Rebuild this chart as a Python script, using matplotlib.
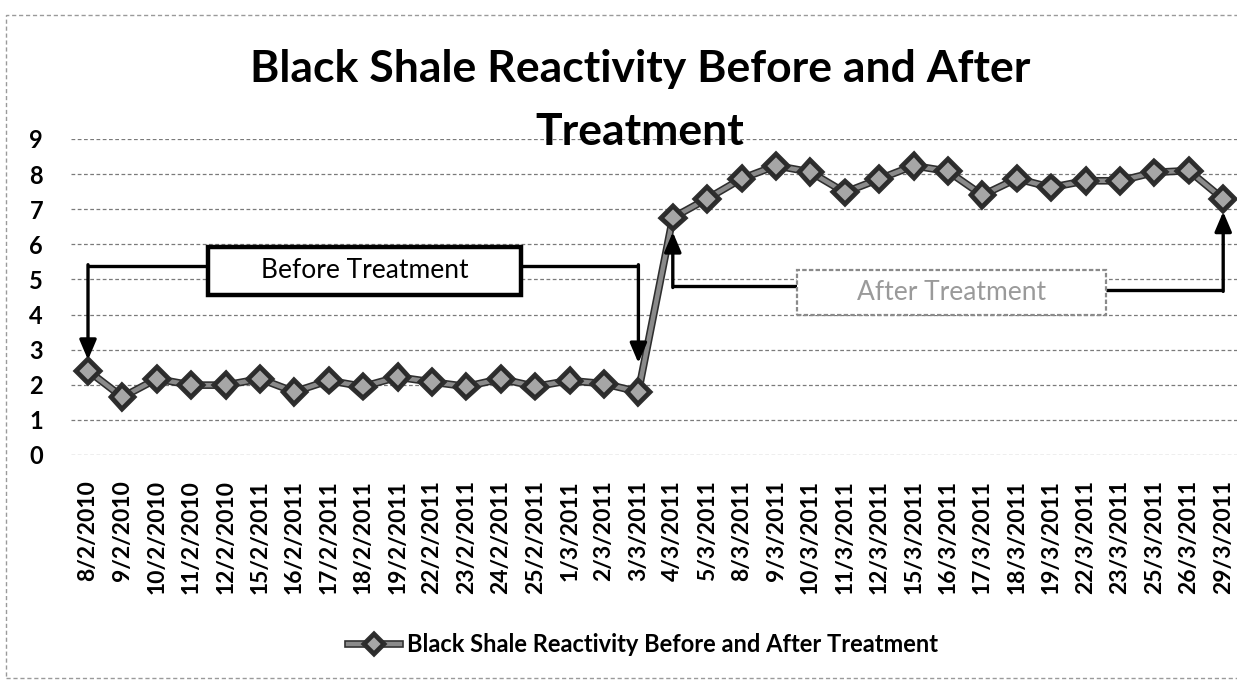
import matplotlib
matplotlib.use('Agg')
import matplotlib.pyplot as plt
import matplotlib.patheffects as pe
from matplotlib.patches import Rectangle

dates = ['8/2/2010', '9/2/2010', '10/2/2010', '11/2/2010', '12/2/2010',
         '15/2/2011', '16/2/2011', '17/2/2011', '18/2/2011', '19/2/2011',
         '22/2/2011', '23/2/2011', '24/2/2011', '25/2/2011', '1/3/2011',
         '2/3/2011', '3/3/2011',
         '4/3/2011', '5/3/2011', '8/3/2011', '9/3/2011', '10/3/2011',
         '11/3/2011', '12/3/2011', '15/3/2011', '16/3/2011', '17/3/2011',
         '18/3/2011', '19/3/2011', '22/3/2011', '23/3/2011', '25/3/2011',
         '26/3/2011', '29/3/2011']
reactivity = [2.40, 1.65, 2.17, 1.99, 1.99, 2.17, 1.80, 2.12, 1.95, 2.22,
              2.08, 1.95, 2.17, 1.95, 2.12, 2.03, 1.80,
              6.76, 7.30, 7.87, 8.24, 8.06, 7.48, 7.86, 8.24, 8.08, 7.40,
              7.87, 7.62, 7.81, 7.81, 8.05, 8.10, 7.29]
series_name = 'Black Shale Reactivity Before and After Treatment'
title_lines = ['Black Shale Reactivity Before and After', 'Treatment']
yticks = list(range(0, 10))

FONT = 'Lato'
W, H = 1237, 680

fig = plt.figure(figsize=(W / 100, H / 100), dpi=100)
# plot area: category 0 at x=88px, step 34.4px; y=0 at 455px, y=9 at 139px
step = 34.4
ax = fig.add_axes([(88 - step / 2) / W, (H - 455) / H, (step * 34) / W, (455 - 139) / H])
ax.set_xlim(-0.5, 33.5)
ax.set_ylim(0, 9)
for s in ax.spines.values():
    s.set_visible(False)

for y in yticks:
    ax.axhline(y, color='#7a7a7a', lw=0.9, ls=(0, (3, 2)), zorder=0)

x = list(range(len(dates)))
line, = ax.plot(x, reactivity, color='#8a8a8a', lw=3.2, marker='D', markersize=10,
                markerfacecolor='#a6a6a6', markeredgecolor='#2a2a2a', markeredgewidth=1.4,
                label=series_name, zorder=3,
                path_effects=[pe.Stroke(linewidth=5.5, foreground='#2e2e2e'), pe.Normal()])

ax.set_xticks(x)
ax.set_xticklabels(dates, rotation=90, fontsize=16.5, fontweight='bold', family=FONT,
                   va='top', ha='center')
ax.set_yticks(yticks)
ax.set_yticklabels([str(v) for v in yticks], fontsize=17, fontweight='bold', family=FONT)
ax.tick_params(axis='x', length=0, pad=18)
ax.tick_params(axis='y', length=0, pad=20)

# "Before Treatment" callout
arrow_kw = dict(arrowstyle='-|>,head_length=0.75,head_width=0.32', color='black',
                lw=2.4, mutation_scale=16, shrinkA=0, shrinkB=0)
ax.plot([3.5, 0], [5.38, 5.38], color='black', lw=2.4, zorder=4, solid_capstyle='butt')
ax.plot([12.6, 16], [5.38, 5.38], color='black', lw=2.4, zorder=4, solid_capstyle='butt')
ax.annotate('', xy=(0, 2.71), xytext=(0, 5.42), arrowprops=arrow_kw, zorder=4)
ax.annotate('', xy=(16, 2.62), xytext=(16, 5.42), arrowprops=arrow_kw, zorder=4)
ax.add_patch(Rectangle((3.5, 4.56), 12.6 - 3.5, 5.93 - 4.56, facecolor='white',
                       edgecolor='black', lw=3.2, zorder=5))
ax.text((3.5 + 12.6) / 2, (4.56 + 5.93) / 2, 'Before Treatment', fontsize=19,
        family=FONT, ha='center', va='center', zorder=6)

# "After Treatment" callout
ax.plot([20.6, 17], [4.81, 4.81], color='black', lw=2.4, zorder=4, solid_capstyle='butt')
ax.plot([29.6, 33], [4.70, 4.70], color='black', lw=2.4, zorder=4, solid_capstyle='butt')
ax.annotate('', xy=(17, 6.35), xytext=(17, 4.77), arrowprops=arrow_kw, zorder=4)
ax.annotate('', xy=(33, 6.93), xytext=(33, 4.66), arrowprops=arrow_kw, zorder=4)
ax.add_patch(Rectangle((20.6, 3.99), 29.6 - 20.6, 5.27 - 3.99, facecolor='white',
                       edgecolor='#8a8a8a', lw=1.6, ls=(0, (2, 1)), zorder=5))
ax.text((20.6 + 29.6) / 2, (3.99 + 5.27) / 2, 'After Treatment', fontsize=19,
        family=FONT, color='#9a9a9a', ha='center', va='center', zorder=6)

# title
fig.text(640 / W, (H - 82) / H, title_lines[0], fontsize=32, fontweight='bold',
         family=FONT, ha='center', va='baseline')
fig.text(640 / W, (H - 145) / H, title_lines[1], fontsize=32, fontweight='bold',
         family=FONT, ha='center', va='baseline')

leg = fig.legend(handles=[line], loc='center', bbox_to_anchor=(643 / W, (H - 645) / H),
                 frameon=False, prop={'family': FONT, 'weight': 'bold', 'size': 17},
                 handlelength=2.2, handletextpad=0.3, markerscale=0.8)

# chart border
fig.add_artist(Rectangle((6 / W, 2 / H), 1.1, (H - 17) / H, transform=fig.transFigure,
                         fill=False, edgecolor='#9a9a9a', lw=1.0, ls=(0, (3, 2))))

fig.savefig('out.png', dpi=100)
